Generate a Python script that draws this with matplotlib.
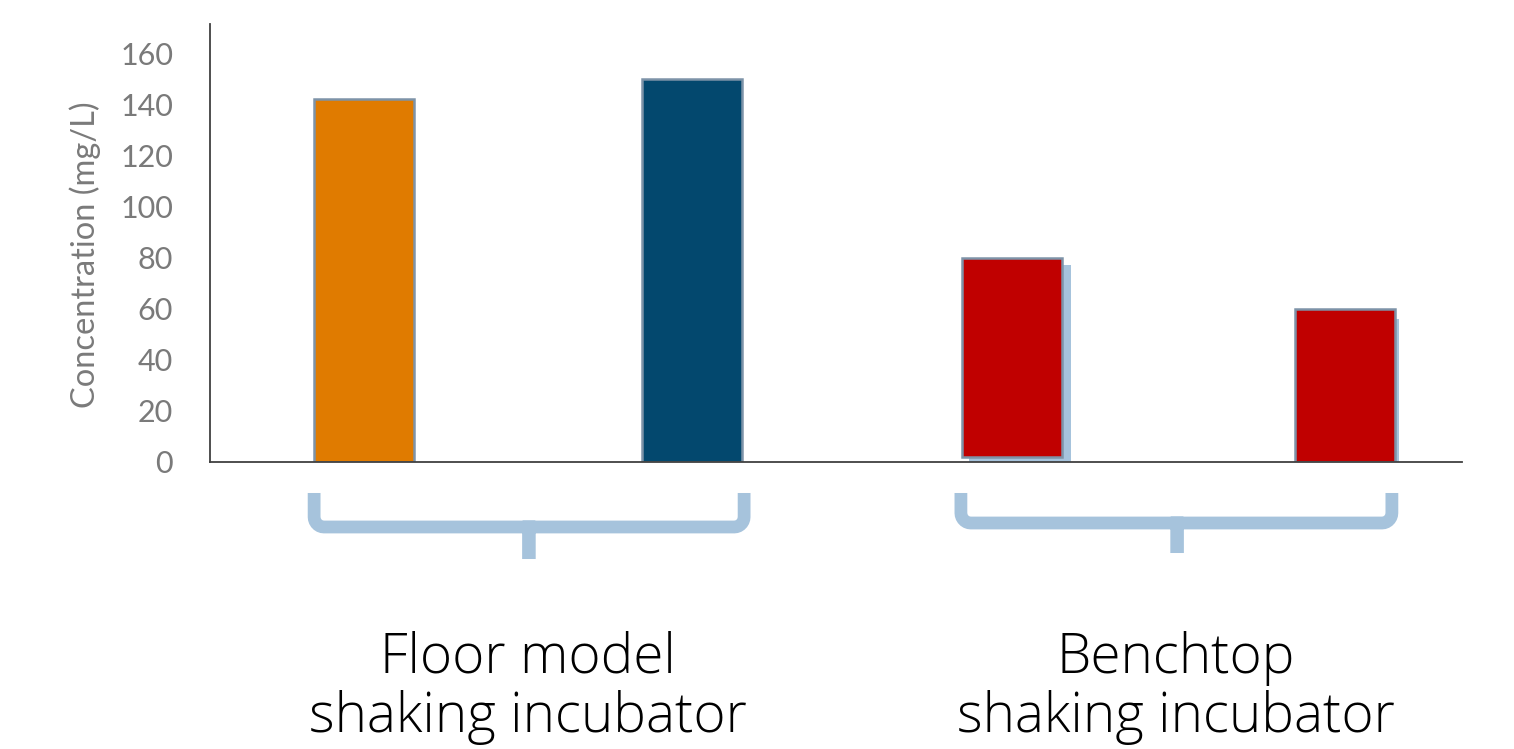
import numpy as np
import matplotlib
matplotlib.use("Agg")
import matplotlib.pyplot as plt
import matplotlib.transforms as mtransforms
from matplotlib import font_manager

#--------data--------
positions = [0, 1, 2, 3]
values = [142, 150, 78, 60]
bar_colors = ["#e07b00", "#03486e", "#c00000", "#c00000"]
shadow_values = [77, 56]          # light blue "shadow" behind the two benchtop bars
yticks = [0, 20, 40, 60, 80, 100, 120, 140, 160]
group_lines = [["Floor model", "shaking incubator"], ["Benchtop", "shaking incubator"]]
group_centers = [0.5, 2.476]
#--------data end--------

names = {f.name for f in font_manager.fontManager.ttflist}
family = "Lato" if "Lato" in names else "DejaVu Sans"
label_family = "Open Sans" if "Open Sans" in names else family
plt.rcParams["font.family"] = [family, "DejaVu Sans"]

fig = plt.figure(figsize=(15.14, 7.49), dpi=100)
ax = fig.add_axes([0.1387, 0.3832, 0.9657 - 0.1387, 0.968 - 0.3832])

edge = "#7d93a8"
shade = "#a6c3dc"

# shadow bars for the benchtop group
ax.bar(positions[2:], shadow_values, width=0.31, color=shade, zorder=1)

# main bars (benchtop red boxes sit slightly up/left of their shadows)
ax.bar(positions[:2], values[:2], width=0.305, color=bar_colors[:2],
       edgecolor=edge, linewidth=1.8, zorder=2)
ax.bar([positions[2] - 0.024], [values[2]], bottom=2, width=0.305,
       color=bar_colors[2], edgecolor=edge, linewidth=1.8, zorder=2)
ax.bar([positions[3] - 0.01], [values[3]], width=0.305,
       color=bar_colors[3], edgecolor=edge, linewidth=1.8, zorder=2)

ax.set_xlim(-0.4695, 3.348)
ax.set_ylim(0, 171.4)
ax.set_yticks(yticks)
ax.set_xticks([])
ax.tick_params(axis="y", length=0, pad=26.5, labelsize=22, labelcolor="#7a7a7a")
for s in ["top", "right"]:
    ax.spines[s].set_visible(False)
for s in ["left", "bottom"]:
    ax.spines[s].set_color("#404040")
    ax.spines[s].set_linewidth(1.3)
ax.set_ylabel("Concentration (mg/L)", fontsize=23.5, color="#7a7a7a", va="center")
ax.yaxis.set_label_coords(-0.0995, 0.4726)

# curly braces under each group
trans = mtransforms.blended_transform_factory(ax.transData, ax.transAxes)
def brace(x0, x1, xm, ytop, ymid, ybot):
    rx, ry = 0.03, 0.023
    t = np.linspace(0, np.pi / 2, 8)
    xs = [x0]
    ys = [ytop]
    xs += list(x0 + rx - rx * np.cos(t))
    ys += list(ymid + ry - ry * np.sin(t))
    xs += [xm, xm, xm]
    ys += [ymid, ybot, ymid]
    xs += list(x1 - rx + rx * np.sin(t))
    ys += list(ymid + ry - ry * np.cos(t))
    xs += [x1]
    ys += [ytop]
    ax.plot(xs, ys, transform=trans, color=shade, lw=9.2, solid_joinstyle="miter",
            solid_capstyle="butt", clip_on=False)

brace(-0.152, 1.159, 0.503, -0.0708, -0.1484, -0.2215)
brace(1.820, 3.134, 2.479, -0.0708, -0.1393, -0.2078)

for xc, lines in zip(group_centers, group_lines):
    for k, yy in enumerate([-0.4817, -0.6164]):
        ax.text(xc, yy, lines[k], transform=trans, ha="center", va="baseline",
                fontsize=39.5, fontweight="light", color="black",
                family=[label_family, "DejaVu Sans"])

fig.savefig("out.png", dpi=100)
